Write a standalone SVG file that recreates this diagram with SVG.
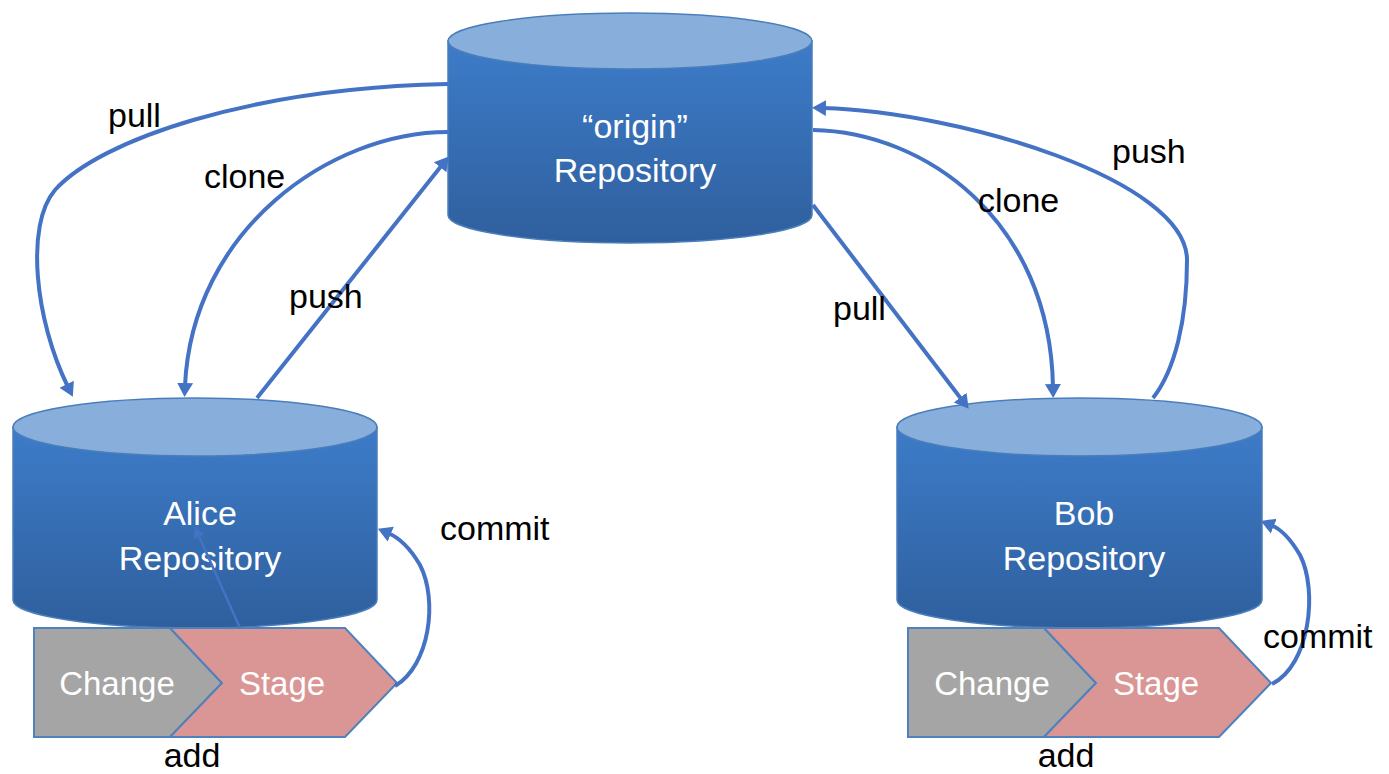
<svg xmlns="http://www.w3.org/2000/svg" width="1389" height="774" viewBox="0 0 1389 774">
<style>
.body{fill:url(#bodyGrad);stroke:#4a7ebb;stroke-width:1.5}
.top{fill:#88aedc;stroke:#4a7ebb;stroke-width:1.5}
.change{fill:#a5a5a5;stroke:#4f81bd;stroke-width:2}
.stage{fill:#d99694;stroke:#4f81bd;stroke-width:2}
.wt{font-family:"Liberation Sans",Arial,sans-serif;font-size:34px;fill:#ffffff;text-anchor:middle}
.ct{font-family:"Liberation Sans",Arial,sans-serif;font-size:33px;fill:#ffffff;text-anchor:middle}
.lbl{font-family:"Liberation Sans",Arial,sans-serif;font-size:34px;fill:#000000}
.conn{fill:none;stroke:#4472c4;stroke-width:4;marker-end:url(#arrow)}
.thin{fill:none;stroke:#4472c4;stroke-width:2.5;marker-end:url(#arrowSmall)}
</style>
<defs>
<linearGradient id="bodyGrad" x1="0" y1="0" x2="0" y2="1">
<stop offset="0" stop-color="#3d7cc9"/>
<stop offset="1" stop-color="#2f5f9d"/>
</linearGradient>
<marker id="arrow" markerUnits="userSpaceOnUse" markerWidth="16" markerHeight="18" refX="3" refY="8" orient="auto" viewBox="0 0 16 16">
<path d="M0,0 L14,8 L0,16 Z" fill="#4472c4"/>
</marker>
<marker id="arrowSmall" markerUnits="userSpaceOnUse" markerWidth="12" markerHeight="14" refX="3" refY="6" orient="auto" viewBox="0 0 12 12">
<path d="M0,0 L11,6 L0,12 Z" fill="#4472c4"/>
</marker>
</defs>

<g id="origin">
<path class="body" d="M448,41 L448,215 A182,28 0 0 0 812,215 L812,41 Z"/>
<ellipse class="top" cx="630" cy="41" rx="182" ry="28"/>
<text class="wt" x="635" y="138">“origin”</text>
<text class="wt" x="635" y="182">Repository</text>
</g>

<g id="alice">
<path class="body" d="M13,427 L13,600 A182,28 0 0 0 377,600 L377,427 Z"/>
<ellipse class="top" cx="195" cy="427" rx="182" ry="29"/>
<text class="wt" x="200" y="525">Alice</text>
<text class="wt" x="200" y="570">Repository</text>
</g>

<g id="alice-change">
<path class="change" d="M34,628 L170,628 L222,683 L170,737 L34,737 Z"/>
<text class="ct" x="117" y="695">Change</text>
</g>
<g id="alice-stage">
<path class="stage" d="M170,628 L345,628 L397,683 L345,737 L170,737 L222,683 Z"/>
<text class="ct" x="282" y="695">Stage</text>
</g>

<g id="bob">
<path class="body" d="M897,427 L897,600 A182.5,28 0 0 0 1262,600 L1262,427 Z"/>
<ellipse class="top" cx="1079.5" cy="427" rx="182.5" ry="29"/>
<text class="wt" x="1084" y="525">Bob</text>
<text class="wt" x="1084" y="570">Repository</text>
</g>

<g id="bob-change">
<path class="change" d="M908,628 L1044,628 L1096,683 L1044,737 L908,737 Z"/>
<text class="ct" x="992" y="695">Change</text>
</g>
<g id="bob-stage">
<path class="stage" d="M1044,628 L1219,628 L1271,683 L1219,737 L1044,737 L1096,683 Z"/>
<text class="ct" x="1156" y="695">Stage</text>
</g>

<g id="connectors">
<path class="conn" d="M448,84 C250,88 100,140 55,190 C25,225 35,320 68,387"/>
<path class="conn" d="M448,132 C330,132 192,230 185,386"/>
<path class="conn" d="M257,398 L442,165"/>
<path class="conn" d="M1153,398 C1175,370 1187,320 1187,260 C1187,180 960,112 823,108"/>
<path class="conn" d="M813,130 C925,132 1050,220 1053,387"/>
<path class="conn" d="M813,205 L962,400"/>
<path class="conn" d="M395,686 C430,665 438,600 420,565 C410,548 400,538 388,533"/>
<path class="conn" d="M1272,684 C1310,665 1318,590 1300,555 C1290,538 1281,529 1271,525"/>
<path class="thin" d="M240,628 L198,534"/>
</g>

<g id="labels">
<text class="lbl" x="108" y="127">pull</text>
<text class="lbl" x="204" y="188">clone</text>
<text class="lbl" x="289" y="308">push</text>
<text class="lbl" x="1112" y="163">push</text>
<text class="lbl" x="978" y="212">clone</text>
<text class="lbl" x="833" y="320">pull</text>
<text class="lbl" x="440" y="540">commit</text>
<text class="lbl" x="1263" y="648">commit</text>
<text class="lbl" x="192" y="767" text-anchor="middle">add</text>
<text class="lbl" x="1066" y="767" text-anchor="middle">add</text>
</g>
</svg>
